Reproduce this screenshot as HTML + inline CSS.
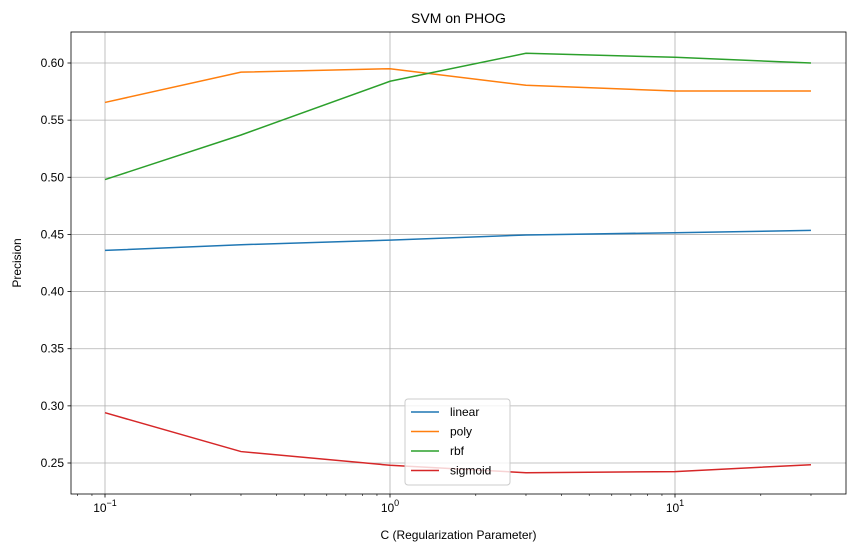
<!DOCTYPE html>
<html><head><meta charset="utf-8"><style>
body{margin:0;background:#fff;font-family:"Liberation Sans","DejaVu Sans",sans-serif;}
</style></head><body>
<svg id="chart" width="855" height="552" xmlns="http://www.w3.org/2000/svg"></svg>
<script>
const cValues=[0.1,0.3,1,3,10,30];
const seriesNames=["linear","poly","rbf","sigmoid"];
const linearVals=[0.436,0.441,0.445,0.4495,0.4515,0.4535];
const polyVals=[0.5655,0.592,0.595,0.5805,0.5755,0.5755];
const rbfVals=[0.498,0.537,0.584,0.6085,0.605,0.600];
const sigmoidVals=[0.294,0.260,0.248,0.2415,0.2425,0.2485];
const yTicks=[0.25,0.30,0.35,0.40,0.45,0.50,0.55,0.60];
const xMajor=[-1,0,1];
const colors=["#1f77b4","#ff7f0e","#2ca02c","#d62728"];
const L=71,R=846,T=32,B=494;
const NS="http://www.w3.org/2000/svg";
const svg=document.getElementById('chart');
function xs(v){return 390+285*Math.log10(v);}
function ys(v){return 463-(v-0.25)*1142.857;}
function mk(tag,attrs,parent){const e=document.createElementNS(NS,tag);for(const k in attrs)e.setAttribute(k,attrs[k]);(parent||svg).appendChild(e);return e;}
const grid=mk('g',{});


xMajor.forEach(p=>{const x=xs(Math.pow(10,p));
 mk('line',{x1:x,x2:x,y1:T,y2:B,stroke:'#b0b0b0','stroke-width':0.8},grid);
 mk('line',{x1:x,x2:x,y1:B,y2:B+3.5,stroke:'#000','stroke-width':0.8});
 const t=mk('text',{x:x,y:B+18,'font-size':12,'text-anchor':'middle'});
 
 
 t.innerHTML='10<tspan dy="-6" font-size="9">'+(p<0?'\u2212'+(-p):p)+'</tspan>';
});
for(let d=-2;d<=1;d++)for(let m=2;m<=9;m++){const x=xs(m*Math.pow(10,d));if(x>L&&x<R)mk('line',{x1:x,x2:x,y1:B,y2:B+2,stroke:'#000','stroke-width':0.6});}
yTicks.forEach(v=>{const y=ys(v);
 mk('line',{x1:L,x2:R,y1:y,y2:y,stroke:'#b0b0b0','stroke-width':0.8},grid);
 mk('line',{x1:L-3.5,x2:L,y1:y,y2:y,stroke:'#000','stroke-width':0.8});
 const t=mk('text',{x:L-7,y:y+4,'font-size':12,'text-anchor':'end'});
 
 
 t.textContent=v.toFixed(2);
});
const all=[linearVals,polyVals,rbfVals,sigmoidVals];
all.forEach((vals,i)=>{
 const p=mk('polyline',{points:vals.map((v,j)=>xs(cValues[j])+','+ys(v)).join(' '),fill:'none',stroke:colors[i],'stroke-width':1.5});
 
 
});
const fr=mk('rect',{x:L,y:T,width:R-L,height:B-T,fill:'none',stroke:'#000','stroke-width':0.8});


const title=mk('text',{x:(L+R)/2,y:23,'font-size':14,'text-anchor':'middle'});


title.textContent='SVM on PHOG';
const xt=mk('text',{x:(L+R)/2,y:539,'font-size':12,'text-anchor':'middle'});


xt.textContent='C (Regularization Parameter)';
const yt=mk('text',{x:21,y:(T+B)/2,'font-size':12,'text-anchor':'middle',transform:'rotate(-90 21 '+((T+B)/2)+')'});


yt.textContent='Precision';
const lg=mk('g',{});


mk('rect',{x:405,y:399,width:105,height:86,rx:3,fill:'#fff','fill-opacity':0.8,stroke:'#ccc'},lg);
seriesNames.forEach((n,i)=>{const y=412+i*19.5;
 const g=mk('g',{},lg);
 
 
 mk('line',{x1:411,x2:439,y1:y,y2:y,stroke:colors[i],'stroke-width':1.5},g);
 const t=mk('text',{x:450,y:y+4,'font-size':12},g);t.textContent=n;
});
</script>
</body></html>
